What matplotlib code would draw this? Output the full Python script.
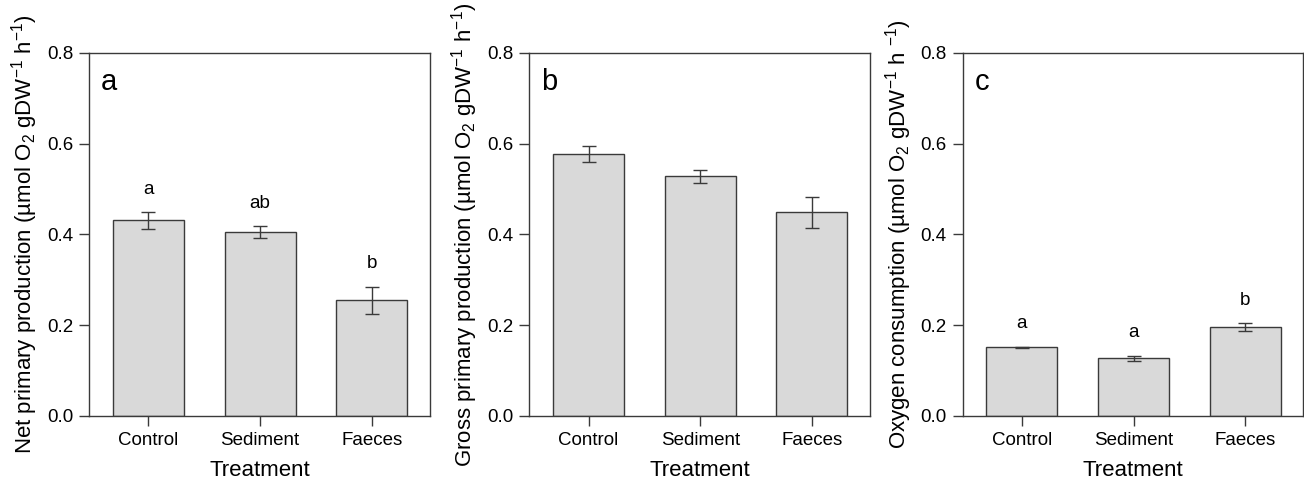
import matplotlib.pyplot as plt

plt.rcParams['font.family'] = ['Liberation Sans', 'DejaVu Sans']
plt.rcParams['mathtext.fontset'] = 'custom'
plt.rcParams['mathtext.rm'] = 'Liberation Sans'
plt.rcParams['mathtext.it'] = 'Liberation Sans'
plt.rcParams['mathtext.default'] = 'regular'

treatments = ['Control', 'Sediment', 'Faeces']

npp_mean = [0.431, 0.405, 0.255]
npp_se = [0.019, 0.013, 0.030]
npp_letters = ['a', 'ab', 'b']

gpp_mean = [0.577, 0.528, 0.449]
gpp_se = [0.018, 0.015, 0.034]
gpp_letters = None

oxy_mean = [0.151, 0.127, 0.196]
oxy_se = [0.002, 0.006, 0.008]
oxy_letters = ['a', 'a', 'b']

panels = [
    ('a', npp_mean, npp_se, npp_letters,
     'Net primary production (µmol O$_2$ gDW$^{-1}$ h$^{-1}$)', [0.0683, 0.1405, 0.2615, 0.75]),
    ('b', gpp_mean, gpp_se, gpp_letters,
     'Gross primary production (µmol O$_2$ gDW$^{-1}$ h$^{-1}$)', [0.406, 0.1405, 0.2611, 0.75]),
    ('c', oxy_mean, oxy_se, oxy_letters,
     'Oxygen consumption (µmol O$_2$ gDW$^{-1}$ h $^{-1}$)', [0.7383, 0.1405, 0.2612, 0.75]),
]

fig = plt.figure(figsize=(13.04, 4.84), dpi=100)
edge = '#3a3a3a'

for tag, mean, se, letters, ylab, pos in panels:
    ax = fig.add_axes(pos)
    x = range(len(treatments))
    ax.bar(x, mean, width=0.635, color='#d9d9d9', edgecolor=edge, linewidth=1.0)
    ax.errorbar(x, mean, yerr=se, fmt='none', ecolor=edge, elinewidth=1.0,
                capsize=5, capthick=1.0)
    if letters:
        for xi, m, s, lab in zip(x, mean, se, letters):
            ax.text(xi, m + s + 0.05, lab, ha='center', va='center', fontsize=13.5)
    ax.text(0.035, 0.96, tag, transform=ax.transAxes, ha='left', va='top', fontsize=21)
    ax.set_xlim(-0.53, 2.52)
    ax.set_ylim(0, 0.8)
    ax.set_yticks([0.0, 0.2, 0.4, 0.6, 0.8])
    ax.set_yticklabels(['0.0', '0.2', '0.4', '0.6', '0.8'])
    ax.set_xticks(list(x))
    ax.set_xticklabels(treatments)
    ax.tick_params(direction='out', length=7.5, width=1.0, color=edge,
                   labelsize=13.5, pad=4)
    for sp in ax.spines.values():
        sp.set_color(edge)
        sp.set_linewidth(1.0)
    ax.set_xlabel('Treatment', fontsize=16, labelpad=8)
    ax.set_ylabel(ylab, fontsize=16, labelpad=5)

fig.savefig('out.png', dpi=100)
